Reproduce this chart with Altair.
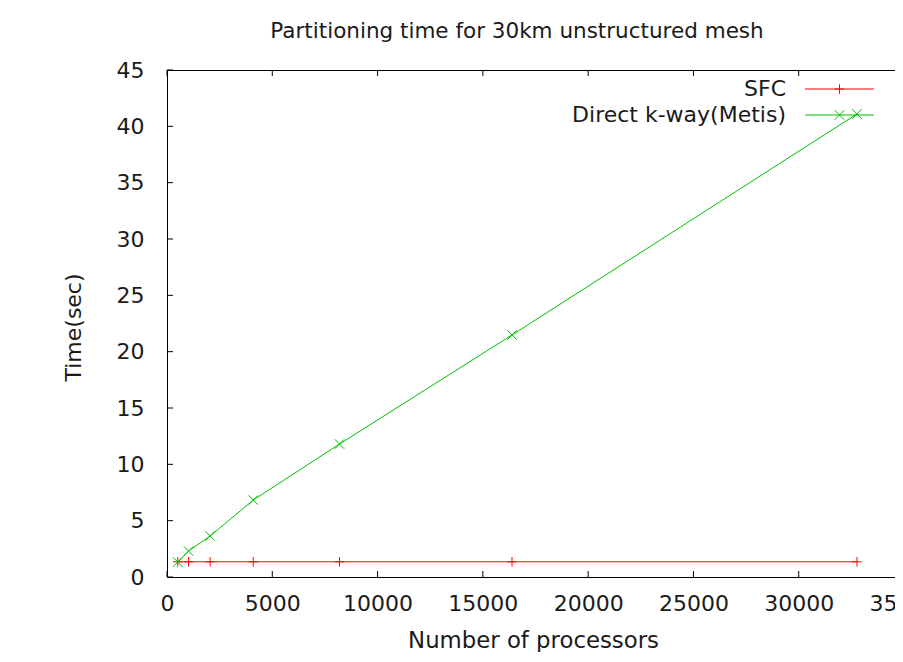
import altair as alt
import pandas as pd

# ---- data ----
procs = [512, 1024, 2048, 4096, 8192, 16384, 32768]
sfc_time = [1.35, 1.35, 1.35, 1.35, 1.35, 1.35, 1.35]
metis_time = [1.33, 2.3, 3.64, 6.83, 11.8, 21.48, 41.1]
series_names = ["SFC", "Direct k-way(Metis)"]
series_colors = ["#ff0000", "#00c000"]
x_ticks = [0, 5000, 10000, 15000, 20000, 25000, 30000, 35000]
y_ticks = [0, 5, 10, 15, 20, 25, 30, 35, 40, 45]

FONT = "DejaVu Sans"
TEXT_COLOR = "#1a1a1a"
W, H = 737, 507
TICK = 6

PLUS = "M-1,0H1M0,-1V1"
CROSS = "M-1,-1L1,1M-1,1L1,-1"
series_shapes = [PLUS, CROSS]

xs = alt.Scale(domain=[0, 35000], nice=False, zero=False)
ys = alt.Scale(domain=[0, 45], nice=False)

x_axis = alt.Axis(values=x_ticks, format="d", labelFlush=False, labelOverlap=False,
                  labelPadding=16, title="Number of processors", titleFontSize=22.8,
                  titleX=366, titleY=70, titleBaseline="alphabetic", titleAlign="center")
y_axis = alt.Axis(values=y_ticks, labelPadding=23, labelOverlap=False, title="Time(sec)",
                  titleX=-86.6, titleY=257, titleAngle=270, titleBaseline="alphabetic",
                  titleAlign="center")


def X(field):
    return alt.X(f"{field}:Q", scale=xs, axis=x_axis)


def Y(field):
    return alt.Y(f"{field}:Q", scale=ys, axis=y_axis)


layers = []

# inward ticks (gnuplot style) on all four sides
xt = pd.DataFrame({"v": x_ticks})
yt = pd.DataFrame({"v": y_ticks})
layers.append(alt.Chart(xt).mark_rule(color="black", strokeWidth=1).encode(
    x=X("v"), y=alt.value(H), y2=alt.value(H - TICK)))
layers.append(alt.Chart(xt).mark_rule(color="black", strokeWidth=1).encode(
    x=X("v"), y=alt.value(0), y2=alt.value(TICK)))
layers.append(alt.Chart(yt).mark_rule(color="black", strokeWidth=1).encode(
    y=Y("v"), x=alt.value(0), x2=alt.value(TICK)))
layers.append(alt.Chart(yt).mark_rule(color="black", strokeWidth=1).encode(
    y=Y("v"), x=alt.value(W), x2=alt.value(W - TICK)))

# data series
for name, color, shape, vals in zip(series_names, series_colors, series_shapes,
                                    [sfc_time, metis_time]):
    df = pd.DataFrame({"procs": procs, "time": vals, "series": name})
    layers.append(alt.Chart(df).mark_line(color=color, strokeWidth=1).encode(
        x=X("procs"), y=Y("time")))
    layers.append(alt.Chart(df).mark_point(shape=shape, color=color, size=90, filled=False,
                                           strokeWidth=1, opacity=1).encode(
        x=X("procs"), y=Y("time")))

# key (gnuplot-style, top right inside the plot)
for i, (name, color, shape) in enumerate(zip(series_names, series_colors, series_shapes)):
    ly = 19 + 26 * i
    ldf = pd.DataFrame({"label": [name]})
    layers.append(alt.Chart(ldf).mark_text(align="right", baseline="middle", font=FONT,
                                           fontSize=22, color=TEXT_COLOR).encode(
        text="label:N", x=alt.value(619), y=alt.value(ly)))
    layers.append(alt.Chart(ldf).mark_rule(color=color, strokeWidth=1).encode(
        x=alt.value(638), x2=alt.value(707), y=alt.value(ly)))
    layers.append(alt.Chart(ldf).mark_point(shape=shape, color=color, size=90, filled=False,
                                            strokeWidth=1, opacity=1).encode(
        x=alt.value(672.5), y=alt.value(ly)))

chart = alt.layer(*layers).properties(
    width=W,
    height=H,
    title=alt.Title("Partitioning time for 30km unstructured mesh", font=FONT, fontSize=21.5,
                    fontWeight="normal", color=TEXT_COLOR, anchor="middle", frame="group",
                    dx=-18.5, dy=33, baseline="alphabetic", offset=33),
    autosize=alt.AutoSizeParams(type="none"),
    padding={"left": 159, "top": 62, "right": -9, "bottom": 75},
).configure_view(
    stroke="black", strokeWidth=1
).configure_axis(
    grid=False, ticks=False, domain=False,
    labelFont=FONT, labelFontSize=22, labelColor=TEXT_COLOR,
    titleFont=FONT, titleFontSize=22, titleFontWeight="normal", titleColor=TEXT_COLOR,
)

chart.save("out.html", embed_options={"renderer": "svg", "actions": False})
